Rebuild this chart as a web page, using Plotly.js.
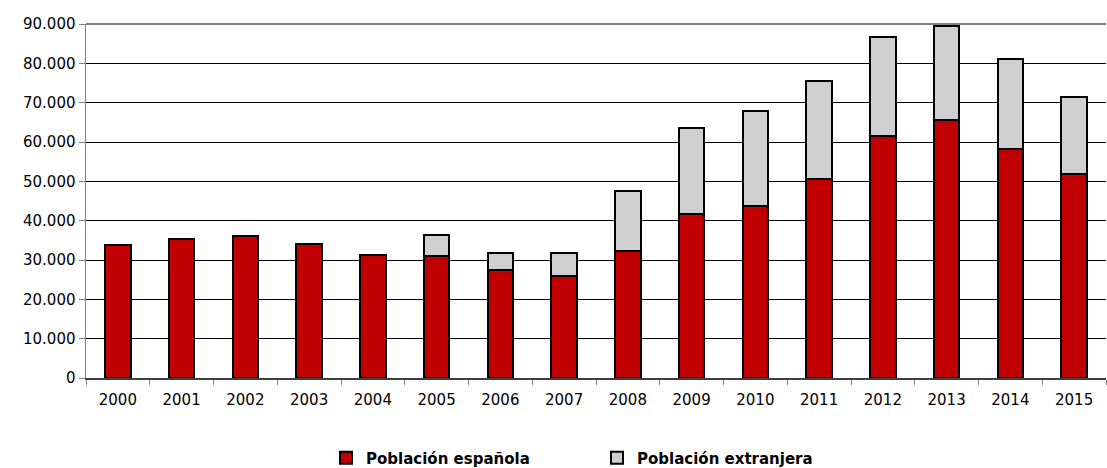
<!DOCTYPE html>
<html><head><meta charset="utf-8">
<script src="https://cdn.plot.ly/plotly-3.0.1.min.js"></script>
<style>html,body{margin:0;padding:0;background:#fff;}#chart{width:1107px;height:468px;}</style>
</head><body><div id="chart"></div>
<script>
const years = ['2000','2001','2002','2003','2004','2005','2006','2007','2008','2009','2010','2011','2012','2013','2014','2015'];
const espanola = [33900,35400,36000,34100,31300,31000,27400,25900,32300,41600,43800,50700,61500,65600,58300,51800];
const extranjera = [0,0,100,0,0,5300,4400,5800,15200,21900,24000,24800,25200,24000,22700,19600];
const yTicks = [0,10000,20000,30000,40000,50000,60000,70000,80000,90000];

const F = 'DejaVu Sans, sans-serif';
const traces = [
  {type:'bar', x:years, y:espanola, name:'Población española',
   marker:{color:'#c00000', line:{color:'#000', width:2}}},
  {type:'bar', x:years, y:extranjera, name:'Población extranjera',
   marker:{color:'#d0cfcf', line:{color:'#000', width:2}}}
];
const layout = {
  width:1107, height:468,
  margin:{l:86, r:1, t:24, b:90},
  barmode:'stack', bargap:0.6,
  paper_bgcolor:'#fff', plot_bgcolor:'#fff',
  font:{family:F, size:15, color:'#000'},
  showlegend:true,
  legend:{orientation:'h', xref:'container', x:326/1107, xanchor:'left',
    yref:'container', y:10/468, yanchor:'middle',
    font:{family:F, size:15, color:'#000', weight:'bold'}, entrywidth:226, entrywidthmode:'pixels',
    traceorder:'normal'},
  xaxis:{type:'category', showline:true, linecolor:'#404040', linewidth:1.5,
    ticks:'outside', tickson:'boundaries', ticklen:5, tickcolor:'#808080',
    ticklabelstandoff:7,
    showgrid:false, tickfont:{family:F, size:15, color:'#000'}},
  yaxis:{range:[0,90000], tickvals:yTicks, tickformat:',d', showline:true,
    linecolor:'#808080', linewidth:1.5, ticks:'outside', ticklen:6, tickcolor:'#808080',
    showgrid:true, gridcolor:'#000', gridwidth:1, zeroline:false,
    tickfont:{family:F, size:15, color:'#000'}},
  separators:',.',
  shapes:[{type:'line', xref:'paper', yref:'paper', x0:0, x1:1, y0:1, y1:1,
    line:{color:'#808080', width:2}}]
};
Plotly.newPlot('chart', traces, layout, {displayModeBar:false, staticPlot:true});
</script></body></html>
